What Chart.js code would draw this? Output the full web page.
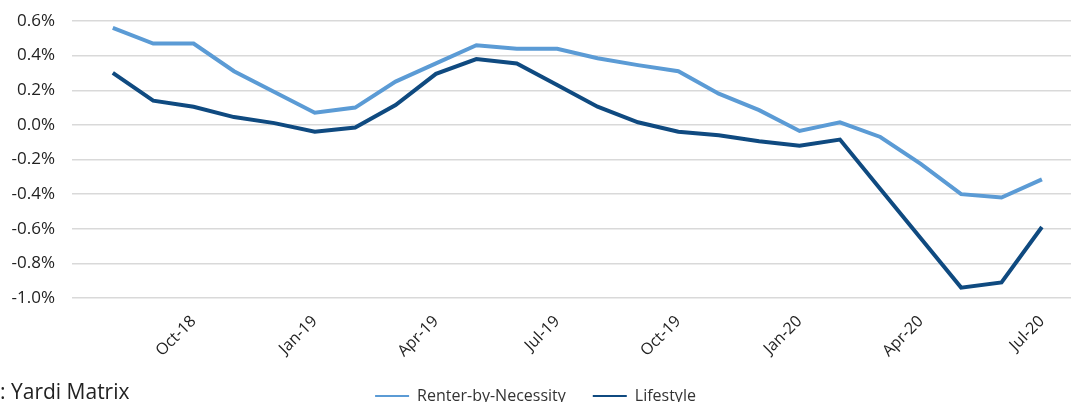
<!DOCTYPE html>
<html>
<head>
<meta charset="utf-8">
<script src="https://cdn.jsdelivr.net/npm/chart.js@4.4.1/dist/chart.umd.min.js"></script>
<style>
  body { margin: 0; background: #fff; }
  #wrap { position: relative; width: 1071px; height: 402px; overflow: hidden; }
  #source { position: absolute; left: 0; top: 381px; font: 21px/1 "Open Sans", sans-serif; color: #222; white-space: nowrap; }
</style>
</head>
<body>
<div id="wrap">
  <!-- canvas is a little taller than the page; the legend sits low and is clipped like the original -->
  <canvas id="rent-chart" width="1071" height="414"></canvas>
  <div id="source">: Yardi Matrix</div>
</div>
<script>
// monthly rent growth, Aug-18 .. Jul-20
const months = ["Aug-18", "Sep-18", "Oct-18", "Nov-18", "Dec-18", "Jan-19", "Feb-19", "Mar-19", "Apr-19", "May-19", "Jun-19", "Jul-19",
  "Aug-19", "Sep-19", "Oct-19", "Nov-19", "Dec-19", "Jan-20", "Feb-20", "Mar-20", "Apr-20", "May-20", "Jun-20", "Jul-20"];
const renterByNecessity = [0.56, 0.47, 0.47, 0.31, 0.19, 0.07, 0.10, 0.25, 0.355, 0.46, 0.44, 0.44,
  0.385, 0.345, 0.31, 0.18, 0.085, -0.035, 0.015, -0.07, -0.225, -0.40, -0.42, -0.315];
const lifestyle = [0.30, 0.14, 0.105, 0.045, 0.01, -0.04, -0.015, 0.115, 0.295, 0.38, 0.355, 0.23,
  0.105, 0.015, -0.04, -0.06, -0.095, -0.12, -0.085, -0.37, -0.655, -0.94, -0.91, -0.59];
const tickMonths = [2, 5, 8, 11, 14, 17, 20, 23]; // Oct-18, Jan-19 ... every third month
const yTicks = { min: -1.0, max: 0.6, step: 0.2 };

const ctx = document.getElementById("rent-chart");
const font = "'Open Sans', sans-serif";

function toPoints(arr) {
  return arr.map((v, i) => ({ x: i, y: v }));
}

const chart = new Chart(ctx, {
  type: "line",
  data: {
    datasets: [
      {
        label: "Renter-by-Necessity",
        data: toPoints(renterByNecessity),
        borderColor: "#5b9bd5",
        backgroundColor: "#5b9bd5",
        borderWidth: 4,
        pointRadius: 0,
        tension: 0,
      },
      {
        label: "Lifestyle",
        data: toPoints(lifestyle),
        borderColor: "#0f4a80",
        backgroundColor: "#0f4a80",
        borderWidth: 4,
        pointRadius: 0,
        tension: 0,
      },
    ],
  },
  options: {
    responsive: false,
    animation: false,
    layout: { padding: { top: 21, right: 0, left: 0, bottom: 0 } },
    plugins: {
      legend: {
        position: "bottom",
        labels: {
          boxWidth: 34,
          boxHeight: 2,
          padding: 27,
          color: "#333",
          font: { family: font, size: 16 },
          generateLabels: function (chart) {
            // thin line swatch, no outline
            const items = Chart.defaults.plugins.legend.labels.generateLabels(chart);
            items.forEach((it) => { it.lineWidth = 0; });
            return items;
          },
        },
      },
      tooltip: { enabled: false },
    },
    scales: {
      x: {
        type: "linear",
        min: -1.01,
        max: 23.72,
        grid: { display: false },
        border: { display: false },
        afterFit: function (scale) {
          scale.height = 63;
        },
        afterBuildTicks: function (scale) {
          scale.ticks = tickMonths.map((v) => ({ value: v }));
        },
        ticks: {
          autoSkip: false,
          minRotation: 45,
          maxRotation: 45,
          padding: 6,
          color: "#222",
          font: { family: font, size: 16 },
          callback: function (value) {
            return months[value];
          },
        },
      },
      y: {
        min: yTicks.min,
        max: yTicks.max,
        afterFit: function (scale) {
          scale.width = 72;
          // tick padding would otherwise push the plot down
          scale.paddingTop = 0;
          scale.paddingBottom = 0;
        },
        grid: { color: "#d9d9d9", lineWidth: 1.5, drawTicks: false },
        border: { display: false },
        ticks: {
          stepSize: yTicks.step,
          padding: 17,
          color: "#222",
          font: { family: font, size: 17 },
          callback: function (value) {
            return value.toFixed(1) + "%";
          },
        },
      },
    },
  },
});
</script>
</body>
</html>
